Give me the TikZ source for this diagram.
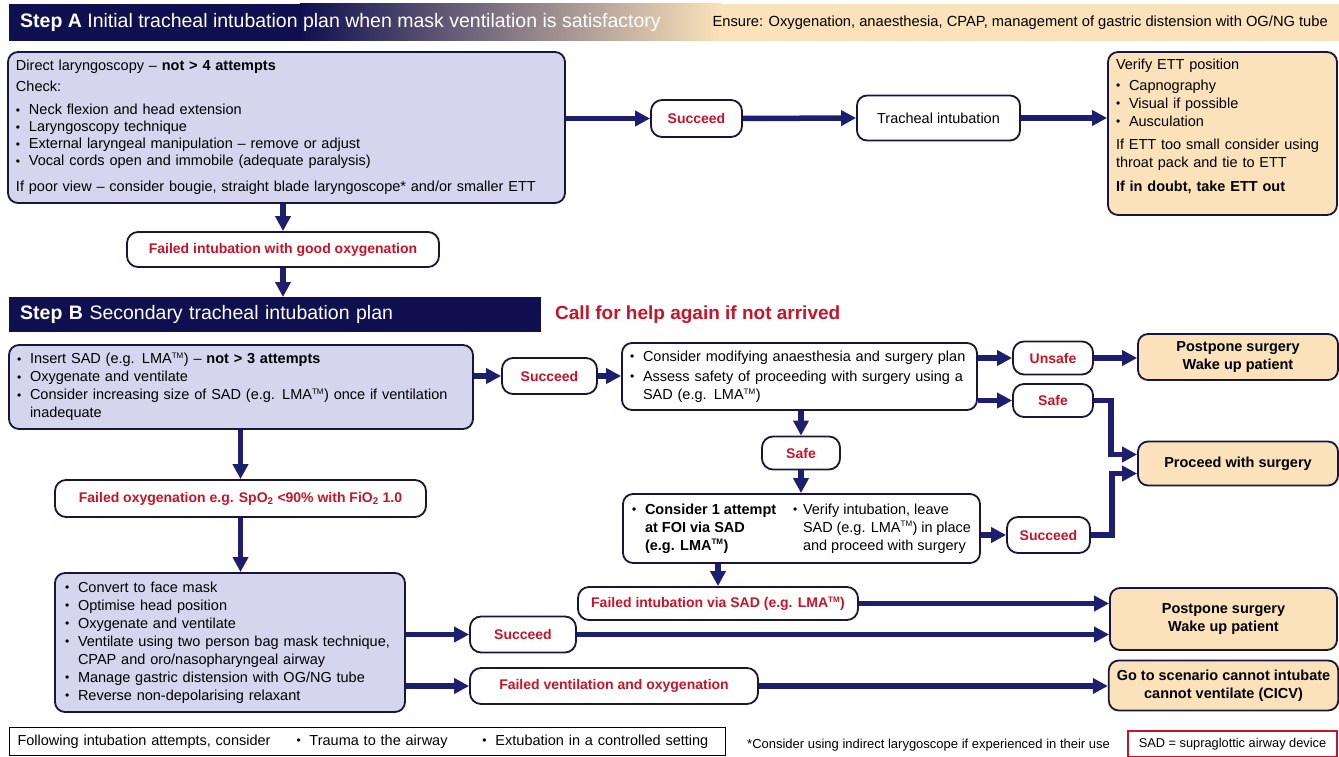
\documentclass[tikz,border=0pt]{standalone}
\usepackage{fontspec}
\setmainfont{Liberation Sans}
\usetikzlibrary{arrows.meta,calc}
\definecolor{navy}{RGB}{16,16,80}
\definecolor{flow}{RGB}{30,30,110}
\definecolor{edge}{RGB}{22,22,62}
\definecolor{lav}{RGB}{213,213,238}
\definecolor{sand}{RGB}{251,226,186}
\definecolor{alert}{RGB}{200,20,40}
% bullet lines: \li = bulleted line, \lc = continuation line
\newcommand\dotmark{\raisebox{0.3pt}{\fontsize{12}{12}\selectfont\textbullet}}
\newcommand\bl{\makebox[13pt][l]{\dotmark}}
\newcommand\li[1]{\mbox{\bl#1}}
\newcommand\lc[1]{\mbox{\hspace*{13pt}#1}}
\newcommand\tmk{\textsuperscript{\fontsize{8}{8}\selectfont TM}}
\begin{document}
\begin{tikzpicture}[x=1pt,y=-1pt,
  base/.style={rounded corners=10pt, draw=edge, line width=1.8pt, inner xsep=8pt, inner ysep=0pt,
    font=\fontsize{14.5}{18}\selectfont},
  lavbox/.style={base, fill=lav, align=left},
  plainbox/.style={base, fill=white, align=left},
  sandbox/.style={base, fill=sand, align=center, font=\fontsize{14.5}{18}\selectfont\bfseries},
  tag/.style={base, rounded corners=11pt, fill=white, text=alert, align=center,
    font=\fontsize{14}{16}\selectfont\bfseries},
  arr/.style={draw=flow, line width=5.5pt, -{Triangle[length=15pt,width=15pt]}},
]
\useasboundingbox (0,0) rectangle (1339,757);
\fill[white] (0,0) rectangle (1339,757);

% ---- Step A header band
\fill[navy] (9,4) rectangle (301,41);
\shade[left color=navy, right color=sand] (300,4) rectangle (721,41);
\fill[sand] (720,4) rectangle (1339,41);
\node[anchor=west, text=white, font=\fontsize{19.5}{22}\selectfont, inner sep=0] (hA) at (20,22.5)
  {\textbf{Step A} Initial tracheal intubation plan when mask ventilation is satisfactory};
\node[anchor=east, font=\fontsize{14.7}{16}\selectfont, inner sep=0] (ensure) at (1328,22.5)
  {Ensure: Oxygenation, anaesthesia, CPAP, management of gastric distension with OG/NG tube};

% ---- Step A
\node[lavbox, text width=541pt, minimum height=151pt, font=\fontsize{14.5}{17}\selectfont] (A1) at (286.5,127.5)
  {Direct laryngoscopy -- \textbf{not > 4 attempts}\\[4pt]
   Check:\\[6pt]
   \li{Neck flexion and head extension}\\
   \li{Laryngoscopy technique}\\
   \li{External laryngeal manipulation -- remove or adjust}\\
   \li{Vocal cords open and immobile (adequate paralysis)}\\[9pt]
   \mbox{If poor view -- consider bougie, straight blade laryngoscope* and/or smaller ETT}};
\node[tag, minimum width=91pt, minimum height=37pt] (sA) at (696.5,118.5) {Succeed};
\node[base, fill=white, align=center, minimum width=163pt, minimum height=45pt] (tA) at (938.5,118) {Tracheal intubation};
\node[base, fill=sand, align=left, text width=213pt, minimum height=163pt] (vA) at (1222.5,133.5)
  {Verify ETT position\\[3pt]
   \li{Capnography}\\
   \li{Visual if possible}\\
   \li{Ausculation}\\[5pt]
   \mbox{If ETT too small consider using}\\
   throat pack and tie to ETT\\[6pt]
   \textbf{If in doubt, take ETT out}\\[-1pt]\mbox{}};
\node[tag, minimum width=312pt, minimum height=35pt] (fA) at (283,249.5) {Failed intubation with good oxygenation};

\draw[arr] (A1.east |- sA.west) -- (sA.west);
\draw[arr] (sA.east) -- (tA.west);
\draw[arr] (tA.east) -- (tA.east -| vA.west);
\draw[arr] (A1.south -| fA.north) -- (fA.north);

% ---- Step B header
\node[fill=navy, text=white, anchor=north west, minimum height=35pt, text width=510pt, inner xsep=11pt,
  align=left, font=\fontsize{19.5}{22}\selectfont] (hB) at (9,297)
  {\textbf{Step B} Secondary tracheal intubation plan};
\node[anchor=west, text=alert, inner sep=0, font=\fontsize{19}{21}\selectfont\bfseries] (help) at (555,315)
  {Call for help again if not arrived};
\draw[arr] (fA.south) -- (fA.south |- hB.north);

% ---- Step B
\node[lavbox, text width=448pt, minimum height=84pt] (B1) at (241,387)
  {\li{Insert SAD (e.g. LMA\tmk) -- \textbf{not > 3 attempts}}\\
   \li{Oxygenate and ventilate}\\
   \li{Consider increasing size of SAD (e.g. LMA\tmk) once if ventilation}\\
   \lc{inadequate}};
\node[tag, minimum width=95pt, minimum height=36pt] (sB) at (549.5,376) {Succeed};
\node[plainbox, text width=339pt, minimum height=67pt] (B2) at (799.5,376.5)
  {\li{Consider modifying anaesthesia and surgery plan}\\[2pt]
   \li{Assess safety of proceeding with surgery using a}\\
   \lc{SAD (e.g. LMA\tmk)}};
\node[tag, minimum width=80pt, minimum height=33pt] (unsafe) at (1053,358) {Unsafe};
\node[tag, minimum width=80pt, minimum height=33pt] (safeR) at (1053,400.5) {Safe};
\node[sandbox, minimum width=200pt, minimum height=46pt] (postA) at (1238,357) {Postpone surgery\\Wake up patient};
\node[sandbox, minimum width=200pt, minimum height=44pt] (proceed) at (1238,463.5) {Proceed with surgery};
\node[tag, minimum width=78pt, minimum height=33pt] (safeM) at (801,453) {Safe};
\node[plainbox, minimum width=357pt, minimum height=69pt, inner xsep=9pt] (foi) at (801.5,528.5)
  {\mbox{\parbox[t]{161pt}{\bfseries\bl Consider 1 attempt\\\hspace*{13pt}at FOI via SAD\\\hspace*{13pt}(e.g. LMA\tmk)}%
   \parbox[t]{178pt}{\makebox[10pt][l]{\dotmark}Verify intubation, leave\\
   \hspace*{10pt}SAD (e.g. LMA\tmk) in place\\\hspace*{10pt}and proceed with surgery}}};
\node[tag, minimum width=83pt, minimum height=36pt] (sC) at (1048.5,535) {Succeed};
\node[tag, minimum width=280pt, minimum height=33pt] (fSAD) at (718,603.5) {Failed intubation via SAD (e.g. LMA\tmk)};

\draw[arr] (B1.east |- sB.west) -- (sB.west);
\draw[arr] (sB.east) -- (sB.east -| B2.west);
\draw[arr] (B2.east |- unsafe.west) -- (unsafe.west);
\draw[arr] (unsafe.east) -- (unsafe.east -| postA.west);
\draw[arr] (B2.east |- safeR.west) -- (safeR.west);
\draw[arr] (safeR.east) -- ++(17,0) |- ($(proceed.west)+(0,-9)$);
\draw[arr] (B2.south -| safeM.north) -- (safeM.north);
\draw[arr] (safeM.south) -- (safeM.south |- foi.north);
\draw[arr] (foi.east |- sC.west) -- (sC.west);
\draw[arr] (sC.east) -- ++(21,0) |- ($(proceed.west)+(0,10)$);
\draw[arr] (foi.south -| fSAD.north) -- (fSAD.north);

% ---- failed oxygenation branch
\node[tag, minimum width=371pt, minimum height=37pt] (fO) at (240.5,498.5)
  {Failed oxygenation e.g. SpO\textsubscript{2} <90\% with FiO\textsubscript{2} 1.0};
\node[lavbox, text width=330pt, inner xsep=10pt, minimum height=139pt] (B3) at (230,642.5)
  {\li{Convert to face mask}\\
   \li{Optimise head position}\\
   \li{Oxygenate and ventilate}\\
   \li{Ventilate using two person bag mask technique,}\\
   \lc{CPAP and oro/nasopharyngeal airway}\\
   \li{Manage gastric distension with OG/NG tube}\\
   \li{Reverse non-depolarising relaxant}};
\node[tag, minimum width=106pt, minimum height=36pt] (sD) at (523,634.5) {Succeed};
\node[tag, minimum width=288pt, minimum height=36pt] (fV) at (614,686) {Failed ventilation and oxygenation};
\node[sandbox, minimum width=227pt, minimum height=62pt] (postB) at (1223.5,619) {Postpone surgery\\Wake up patient};
\node[sandbox, minimum width=227pt, minimum height=50pt] (cicv) at (1223.5,685.5) {Go to scenario cannot intubate\\cannot ventilate (CICV)};

\draw[arr] (B1.south -| fO.north) -- (fO.north);
\draw[arr] (fO.south) -- (fO.south |- B3.north);
\draw[arr] (B3.east |- sD.west) -- (sD.west);
\draw[arr] (B3.east |- fV.west) -- (fV.west);
\draw[arr] (fSAD.east) -- (fSAD.east -| postB.west);
\draw[arr] (sD.east) -- (sD.east -| postB.west);
\draw[arr] (fV.east) -- (fV.east -| cicv.west);

% ---- footer
\node[draw=black, line width=1pt, anchor=north west, minimum height=28pt, text width=700pt, inner xsep=8pt,
  align=left, font=\fontsize{14.5}{16}\selectfont] (foot) at (9,727)
  {\makebox[279pt][l]{Following intubation attempts, consider}\makebox[186pt][l]{\bl Trauma to the airway}\bl Extubation in a controlled setting};
\node[anchor=west, inner sep=0, font=\fontsize{13}{15}\selectfont] (note) at (747,745)
  {*Consider using indirect larygoscope if experienced in their use};
\node[draw=alert, line width=1.2pt, minimum width=209pt, minimum height=26pt, inner sep=0,
  font=\fontsize{12.8}{14}\selectfont] (legend) at (1232.5,744) {SAD = supraglottic airway device};
\end{tikzpicture}
\end{document}
